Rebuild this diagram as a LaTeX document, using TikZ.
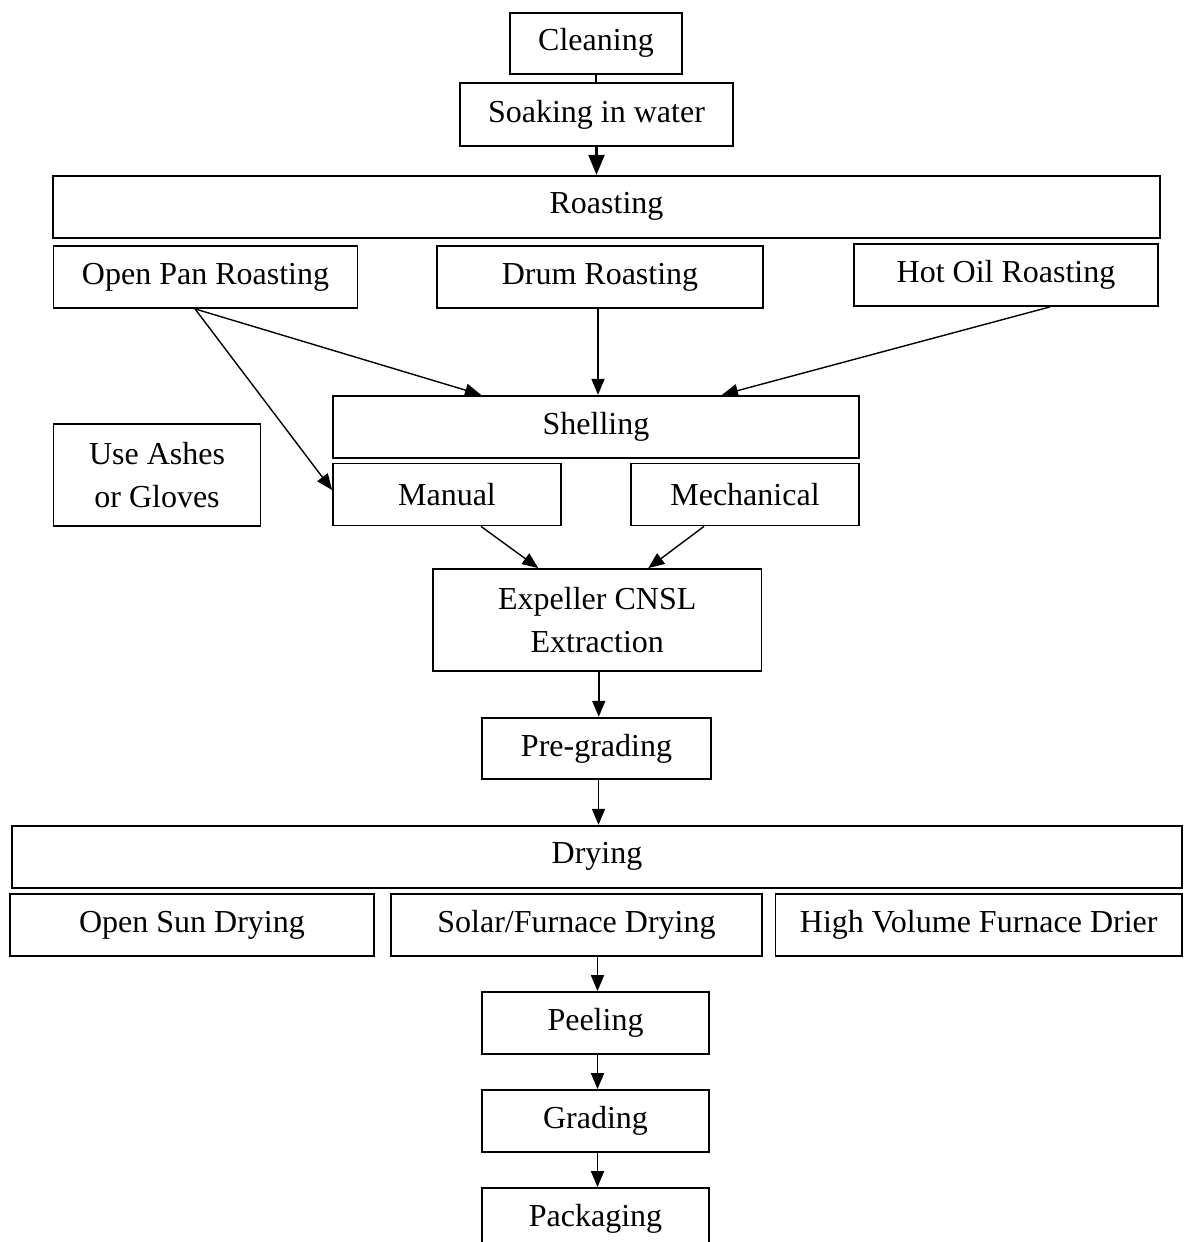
\documentclass[tikz,border=0pt]{standalone}
\usepackage{fontspec}
\setmainfont{Liberation Serif}
\usetikzlibrary{arrows.meta}
\begin{document}
\begin{tikzpicture}[x=0.5pt,y=-0.5pt,
  box/.style={draw, line width=0.9pt, inner sep=0pt, align=center, font=\fontsize{16}{21.5}\selectfont},
  arr/.style={-{Triangle[length=8pt,width=6.5pt]}, line width=0.9pt},
  bigarr/.style={-{Triangle[length=10pt,width=8pt]}, line width=1.2pt},
  darr/.style={-{Triangle[length=8pt,width=6.5pt]}, line width=0.7pt}]
\clip (0,0) rectangle (1190,1242);
% top
\node[box, minimum width=86pt, minimum height=30.5pt] (clean) at (596,43.3) {Cleaning};
\node[box, minimum width=136.5pt, minimum height=31.5pt] (soak) at (596.5,114.5) {Soaking in water};
\node[box, minimum width=553.5pt, minimum height=31pt] (roast) at (606.5,206.7) {Roasting};
\node[box, minimum width=152pt, minimum height=31pt] (openpan) at (205.5,277) {Open Pan Roasting};
\node[box, minimum width=163pt, minimum height=31pt] (drum) at (600,277) {Drum Roasting};
\node[box, minimum width=152pt, minimum height=31pt] (hotoil) at (1006,275) {Hot Oil Roasting};
% shelling
\node[box, minimum width=263pt, minimum height=31pt] (shell) at (596,426.7) {Shelling};
\node[box, minimum width=103.5pt, minimum height=51pt] (ashes) at (157,475) {Use Ashes\\or Gloves};
\node[box, minimum width=114pt, minimum height=31pt] (manual) at (447,494.5) {Manual};
\node[box, minimum width=114pt, minimum height=31pt] (mech) at (745,494.5) {Mechanical};
% extraction
\node[box, minimum width=164.25pt, minimum height=50.85pt] (expel) at (597.25,619.85) {Expeller CNSL\\Extraction};
\node[box, minimum width=114.5pt, minimum height=30.65pt] (pregrade) at (596.5,748.35) {Pre-grading};
% drying
\node[box, minimum width=585pt, minimum height=31pt] (drying) at (597,856.7) {Drying};
\node[box, minimum width=182pt, minimum height=31pt] (opensun) at (192,925) {Open Sun Drying};
\node[box, minimum width=185.5pt, minimum height=31pt] (solar) at (576.5,925) {Solar/Furnace Drying};
\node[box, minimum width=203.25pt, minimum height=31pt] (highvol) at (978.75,925) {High Volume Furnace Drier};
% final
\node[box, minimum width=113.5pt, minimum height=31pt] (peel) at (595.5,1023) {Peeling};
\node[box, minimum width=113.5pt, minimum height=31pt] (grade) at (595.5,1121) {Grading};
\node[box, minimum width=113.5pt, minimum height=31pt] (pack) at (595.5,1219) {Packaging};
% connectors
\draw[line width=0.9pt] (clean.south) -- (clean.south |- soak.north);
\draw[bigarr] (soak.south) -- (soak.south |- roast.north);
\draw[darr] ([xshift=-5.25pt]openpan.south) -- ([xshift=-57.5pt]shell.north);
\draw[darr] ([xshift=-5.25pt]openpan.south) -- ([yshift=2.25pt]manual.west);
\draw[arr] ([xshift=-1pt]drum.south) -- ([xshift=1pt]shell.north);
\draw[darr] ([xshift=22pt]hotoil.south) -- ([xshift=63pt]shell.north);
\draw[darr] ([xshift=17pt]manual.south) -- ([xshift=-29.5pt]expel.north);
\draw[darr] ([xshift=-20.5pt]mech.south) -- ([xshift=25.5pt]expel.north);
\draw[arr] ([xshift=0.75pt]expel.south) -- ([xshift=0.75pt]expel.south |- pregrade.north);
\draw[arr] ([xshift=1pt]pregrade.south) -- ([xshift=1pt]pregrade.south |- drying.north);
\draw[arr] ([xshift=1pt]peel.north |- solar.south) -- ([xshift=1pt]peel.north);
\draw[arr] ([xshift=1pt]peel.south) -- ([xshift=1pt]grade.north);
\draw[arr] ([xshift=1pt]grade.south) -- ([xshift=1pt]pack.north);
\end{tikzpicture}
\end{document}
